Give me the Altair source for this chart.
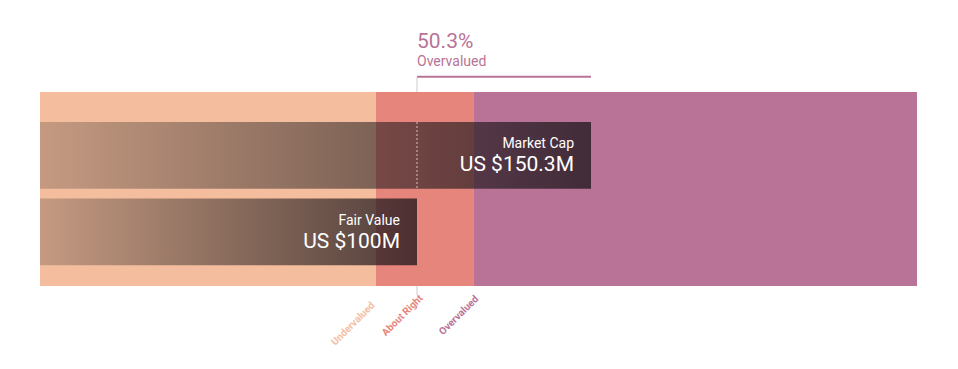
import altair as alt
import pandas as pd

# ---- data ----
categories = ["Market Cap", "Fair Value"]
values = [150.3, 100.0]
value_labels = ["US $150.3M", "US $100M"]
zone_names = ["Undervalued", "About Right", "Overvalued"]
zone_edges = [-8.985, 88.15, 116.27, 244.54]
zone_colors = ["#F4BE9E", "#E5857B", "#B87396"]

x_min, x_max = zone_edges[0], zone_edges[-1]
mcap, fair = values[0], values[1]
pct = (mcap - fair) / fair * 100

bars_df = pd.DataFrame({"category": categories, "value": values,
                        "label": value_labels, "start": [x_min] * len(values)})
zones_df = pd.DataFrame({"zone": zone_names, "start": zone_edges[:-1], "end": zone_edges[1:]})
fair_df = pd.DataFrame({"category": ["Market Cap"], "fair": [fair], "mcap": [mcap],
                        "pct": [f"{pct:.1f}%"], "word": ["Overvalued"]})

FONT = "Roboto"
MAUVE = zone_colors[2]

xs = alt.Scale(domain=[x_min, x_max], nice=False, zero=False)
ys = alt.Scale(domain=categories, range=[30, 173.3], paddingInner=0.127, paddingOuter=0)

zones = alt.Chart(zones_df).mark_rect().encode(
    x=alt.X("start:Q", scale=xs, axis=None),
    x2="end:Q",
    color=alt.Color("zone:N", scale=alt.Scale(domain=zone_names, range=zone_colors), legend=None),
)

grad = alt.Gradient(
    gradient="linear",
    stops=[alt.GradientStop(color="rgba(30,26,26,0.22)", offset=0),
           alt.GradientStop(color="rgba(30,22,28,0.77)", offset=1)],
    x1=0, x2=1, y1=0, y2=0,
)

bars = alt.Chart(bars_df).mark_bar(color=grad).encode(
    x=alt.X("start:Q", scale=xs, axis=None),
    x2="value:Q",
    y=alt.Y("category:N", scale=ys, axis=None),
)

dotted = alt.Chart(fair_df).mark_rule(color="white", strokeDash=[2, 2], opacity=0.7, strokeWidth=1).encode(
    x=alt.X("fair:Q", scale=xs),
    y=alt.value(30),
    y2=alt.value(96.8),
)

name_text = alt.Chart(bars_df).mark_text(
    align="right", baseline="alphabetic", dx=-17, dy=-7, fontSize=14, color="white", font=FONT
).encode(x=alt.X("value:Q", scale=xs), y=alt.Y("category:N", scale=ys, axis=None), text="category:N")

value_text = alt.Chart(bars_df).mark_text(
    align="right", baseline="alphabetic", dx=-17, dy=16, fontSize=21, fontWeight="normal", color="white", font=FONT
).encode(x=alt.X("value:Q", scale=xs), y=alt.Y("category:N", scale=ys, axis=None), text="label:N")

pct_text = alt.Chart(fair_df).mark_text(
    align="left", baseline="alphabetic", fontSize=21, color=MAUVE, font=FONT
).encode(x=alt.X("fair:Q", scale=xs), y=alt.value(-43.7), text="pct:N")

word_text = alt.Chart(fair_df).mark_text(
    align="left", baseline="alphabetic", fontSize=14, color=MAUVE, font=FONT
).encode(x=alt.X("fair:Q", scale=xs), y=alt.value(-26.3), text="word:N")

top_line = alt.Chart(fair_df).mark_rule(color=MAUVE, strokeWidth=2).encode(
    x=alt.X("fair:Q", scale=xs), x2="mcap:Q", y=alt.value(-15.3)
)

top_tick = alt.Chart(fair_df).mark_rule(color="#cccccc", strokeWidth=1).encode(
    x=alt.X("fair:Q", scale=xs), y=alt.value(-15), y2=alt.value(0)
)

bottom_tick = alt.Chart(fair_df).mark_rule(color="#cccccc", strokeWidth=1).encode(
    x=alt.X("fair:Q", scale=xs), y=alt.value(194), y2=alt.value(203)
)

label_pos = [zone_edges[1], fair, zone_edges[2]]
label_dx = [-4, 6, 5]
zone_labels = []
for name, pos, dx, col in zip(zone_names, label_pos, label_dx, zone_colors):
    d = pd.DataFrame({"zone": [name], "pos": [pos]})
    zone_labels.append(
        alt.Chart(d).mark_text(
            angle=315, align="right", baseline="middle", dx=dx, fontSize=10,
            fontWeight="bold", color=col, font=FONT
        ).encode(x=alt.X("pos:Q", scale=xs), y=alt.value(209), text="zone:N")
    )

chart = alt.layer(
    zones, bars, dotted, name_text, value_text, pct_text, word_text,
    top_line, top_tick, bottom_tick, *zone_labels
).properties(
    width=877, height=194,
    padding={"left": 32, "top": 84, "right": 33, "bottom": 75},
    autosize=alt.AutoSizeParams(type="none"),
).configure_view(stroke=None).configure_text(font=FONT)

chart.save("out.html", embed_options={"renderer": "svg", "actions": False})
